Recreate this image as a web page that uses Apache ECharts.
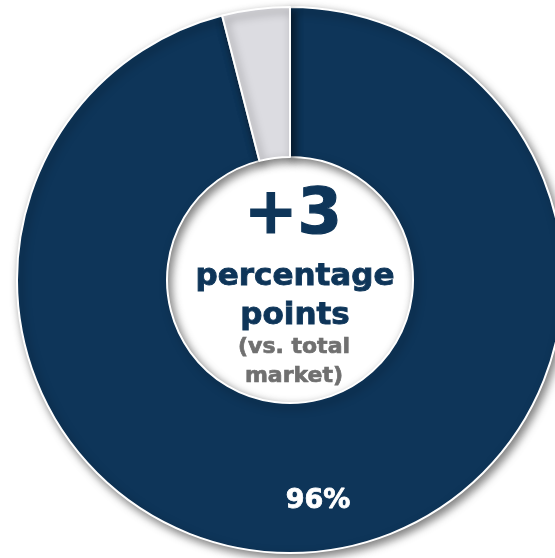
<!DOCTYPE html>
<html>
<head>
<meta charset="utf-8">
<script src="https://cdn.jsdelivr.net/npm/echarts@6/dist/echarts.min.js"></script>
<style>
  html, body { margin: 0; padding: 0; background: #fff; }
  #chart { width: 555px; height: 558px; }
</style>
</head>
<body>
<div id="chart"></div>
<script>
// Share of the segment vs. the remainder (percent)
const categories = ['Segment', 'Other'];
const shareValues = [96, 4];
const sliceColors = ['#0E3559', '#DCDCE1'];
const valueLabels = ['96%', ''];

// Centre annotation lines
const headline = '+3';
const subLines = ['percentage', 'points'];
const noteLines = ['(vs. total', 'market)'];

const FONT = '"DejaVu Sans", Verdana, sans-serif';
const NAVY = '#0E3559';
const NOTE_GREY = '#707070';
const CX = 290, CY = 280;

const pieData = categories.map((name, i) => ({
  name: name,
  value: shareValues[i],
  itemStyle: { color: sliceColors[i] }
}));

const labelData = categories.map((name, i) => ({
  name: name,
  value: shareValues[i],
  label: { show: valueLabels[i] !== '', formatter: valueLabels[i] }
}));

const chart = echarts.init(document.getElementById('chart'), null, { renderer: 'canvas' });

// heavy centred text: bold face plus a thin outline in the same colour
function heavyText(text, x, y, size, color, stroke) {
  return {
    type: 'text', x: x, y: y, silent: true, z: 10,
    style: {
      text: text, fill: color, stroke: color, lineWidth: stroke,
      font: 'bold ' + size + 'px ' + FONT, align: 'center', verticalAlign: 'middle'
    }
  };
}

const graphics = [];
graphics.push(heavyText(headline, CX + 3, 216, 64, NAVY, 1.2));
subLines.forEach((t, i) => graphics.push(heavyText(t, CX + 5, 277 + i * 39, 31, NAVY, 0.9)));
noteLines.forEach((t, i) => graphics.push(heavyText(t, CX + 4, 347 + i * 29, 22, NOTE_GREY, 0.7)));

chart.setOption({
  animation: false,
  backgroundColor: '#ffffff',
  series: [
    {
      type: 'pie',
      center: [CX, CY],
      radius: [123, 273],
      startAngle: 90,
      clockwise: true,
      silent: true,
      label: { show: false },
      labelLine: { show: false },
      itemStyle: {
        borderColor: '#ffffff',
        borderWidth: 2,
        shadowBlur: 9,
        shadowOffsetX: 3,
        shadowOffsetY: 4,
        shadowColor: 'rgba(0,0,0,0.5)'
      },
      data: pieData
    },
    {
      // value labels placed along the outer part of the ring
      type: 'pie',
      center: [CX, CY],
      radius: [200, 240],
      startAngle: 90,
      clockwise: true,
      silent: true,
      itemStyle: { color: 'rgba(0,0,0,0)', borderWidth: 0 },
      label: {
        position: 'inside',
        color: '#ffffff',
        fontFamily: FONT,
        fontWeight: 'bold',
        fontSize: 27,
        textBorderColor: '#ffffff',
        textBorderWidth: 0.8
      },
      labelLine: { show: false },
      data: labelData
    }
  ],
  graphic: graphics
});
</script>
</body>
</html>
